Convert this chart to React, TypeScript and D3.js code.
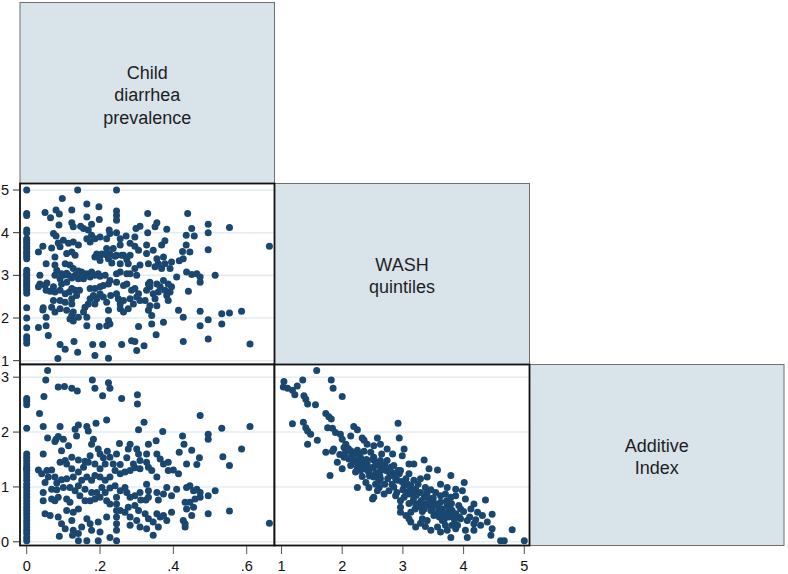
import React from "react";
import * as d3 from "d3";

// ---------- data ----------
const varLabels: string[][] = [
  ["Child", "diarrhea", "prevalence"],
  ["WASH", "quintiles"],
  ["Additive", "Index"],
];

const diarrheaTicks = [0, 0.2, 0.4, 0.6];
const diarrheaTickLabels = ["0", ".2", ".4", ".6"];
const washTicks = [1, 2, 3, 4, 5];
const additiveTicks = [0, 1, 2, 3];

// Panel: WASH quintiles (y) vs child diarrhea prevalence (x)
const washVsDiarrhea: [number, number][] = [
  [0, 5], [0, 4.45], [0, 4.4], [0, 4.06], [0, 4.0], [0, 3.86], [0, 3.81], [0, 3.75], [0, 3.68], [0, 3.63],
  [0, 3.56], [0, 3.51], [0, 3.45], [0, 3.39], [0, 3.12], [0, 3.05], [0, 3.0], [0, 2.94], [0, 2.88], [0, 2.82],
  [0, 2.76], [0, 2.71], [0, 2.65], [0, 2.58], [0, 2.24], [0, 2.0], [0, 1.77], [0, 1.56], [0, 1.49], [0, 1.41],
  [.139, 5], [.245, 5], [.097, 4.8], [.164, 4.67], [.197, 4.61], [.123, 4.53], [.05, 4.47], [.08, 4.53], [.089, 4.44],
  [.245, 4.51], [.245, 4.4], [.245, 4.29], [.065, 4.35], [.164, 4.37], [.198, 4.31], [.33, 4.45], [.439, 4.45],
  [.495, 4.2], [.553, 4.12], [.495, 4.0], [.45, 4.1], [.457, 3.92], [.435, 3.94], [.355, 4.23], [.35, 4.14],
  [.382, 4.08], [.33, 4.0], [.309, 4.15], [.298, 4.1], [.225, 4.06], [.123, 4.23], [.127, 4.14], [.147, 4.15],
  [.155, 4.1], [.177, 4.2], [.168, 4.06], [.177, 3.94], [.088, 4.18], [.073, 3.98], [.08, 3.92], [.086, 3.76],
  [.091, 3.67], [.1, 3.82], [.114, 3.75], [.127, 3.78], [.141, 3.71], [.109, 3.51], [.123, 3.55], [.132, 3.47],
  [.077, 3.43], [.053, 3.27], [.032, 3.55], [.044, 3.68], [.068, 3.64], [.164, 3.86], [.173, 3.78], [.186, 3.86],
  [.2, 3.9], [.218, 3.86], [.227, 3.98], [.245, 4.0], [.255, 3.86], [.271, 3.92], [.282, 3.75], [.295, 3.9],
  [.295, 3.68], [.305, 3.59], [.255, 3.71], [.236, 3.63], [.218, 3.63], [.2, 3.47], [.214, 3.49], [.223, 3.39],
  [.245, 3.47], [.264, 3.47], [.273, 3.37], [.255, 3.27], [.232, 3.29], [.2, 3.35], [.186, 3.43], [.327, 3.71],
  [.327, 3.51], [.345, 3.59], [.368, 3.71], [.377, 3.81], [.373, 3.43], [.355, 3.39], [.377, 3.27], [.359, 3.27],
  [.395, 3.31], [.416, 3.34], [.425, 3.56], [.435, 3.71], [.445, 3.55], [.427, 3.39], [.495, 3.6], [.662, 3.68],
  [.436, 3.08], [.45, 3.02], [.464, 3.04], [.473, 2.96], [.473, 2.84], [.514, 3.0], [.441, 2.63], [.409, 2.96],
  [.391, 3.16], [.368, 3.16], [.35, 3.2], [.332, 3.27], [.309, 3.24], [.295, 3.16], [.277, 3.27], [.282, 3.04],
  [.3, 3.0], [.255, 3.08], [.245, 3.04], [.273, 3.04], [.077, 3.24], [.082, 3.12], [.077, 3.0], [.095, 3.04],
  [.109, 3.05], [.127, 3.16], [.141, 3.1], [.118, 3.24], [.105, 3.27], [.15, 3.08], [.164, 3.04], [.173, 2.96],
  [.186, 3.0], [.195, 3.04], [.177, 3.08], [.155, 2.92], [.141, 2.92], [.123, 2.94], [.091, 2.92], [.095, 2.8],
  [.109, 2.84], [.036, 3.0], [.036, 2.8], [.032, 2.73], [.05, 2.76], [.053, 2.65], [.064, 2.63], [.055, 2.82],
  [.073, 2.73], [.077, 2.61], [.091, 2.65], [.105, 2.57], [.116, 2.61], [.123, 2.69], [.132, 2.65], [.144, 2.65],
  [.136, 2.53], [.123, 2.45], [.105, 2.37], [.091, 2.41], [.073, 2.41], [.068, 2.25], [.045, 2.24], [.044, 2.19],
  [.077, 2.14], [.091, 2.22], [.109, 2.18], [.123, 2.33], [.127, 2.14], [.118, 1.98], [.127, 1.93], [.123, 2.06],
  [.141, 2.02], [.164, 2.02], [.155, 2.14], [.159, 2.25], [.168, 2.33], [.173, 2.45], [.182, 2.53], [.173, 2.69],
  [.186, 2.69], [.2, 2.73], [.209, 2.76], [.223, 2.8], [.227, 2.88], [.2, 2.57], [.191, 2.45], [.186, 2.33],
  [.209, 2.49], [.218, 2.37], [.223, 2.18], [.229, 2.53], [.245, 2.57], [.25, 2.45], [.255, 2.33], [.255, 2.22],
  [.264, 2.41], [.245, 2.84], [.264, 2.76], [.273, 2.8], [.286, 2.65], [.295, 2.69], [.305, 2.57], [.3, 2.49],
  [.309, 2.41], [.323, 2.41], [.282, 2.45], [.291, 2.33], [.277, 2.22], [.264, 2.14], [.327, 2.65], [.336, 2.73],
  [.332, 2.8], [.345, 2.57], [.336, 2.84], [.355, 2.8], [.364, 2.73], [.359, 2.61], [.35, 2.45], [.373, 2.88],
  [.377, 2.65], [.382, 2.53], [.386, 2.41], [.391, 2.61], [.395, 2.73], [.386, 2.8], [.355, 2.29], [.336, 2.29],
  [.332, 2.18], [.341, 2.06], [.341, 1.86], [.373, 1.9], [.427, 2.02], [.414, 2.18], [.473, 2.16], [.495, 1.96],
  [.473, 1.82], [.532, 2.1], [.553, 2.12], [.586, 2.16], [.532, 1.86], [.609, 1.39], [.495, 1.51], [.427, 1.45],
  [.353, 1.61], [.305, 1.8], [.32, 1.35], [.3, 1.24], [.295, 1.45], [.286, 1.47], [.259, 1.38], [.223, 1.94],
  [.218, 1.82], [.227, 1.86], [.198, 1.8], [.164, 1.82], [.223, 1.06], [.186, 1.12], [.207, 1.38], [.18, 1.38],
  [.139, 1.2], [.129, 1.45], [.105, 1.27], [.091, 1.38], [.085, 1.05], [.059, 1.59], [.032, 1.78], [.053, 1.82],
  [.053, 2.02], [.191, 3.5], [.205, 3.5], [.227, 3.5], [.241, 3.45], [.259, 3.47], [.282, 3.47], [.1, 3.0],
  [.114, 3.0], [.132, 3.0], [.15, 3.0], [.168, 3.0], [.2, 2.98], [.214, 3.0],
];

// Panel: Additive index (y) vs child diarrhea prevalence (x)
const additiveVsDiarrhea: [number, number][] = [
  [0, 2.61], [0, 2.56], [0, 2.5], [0, 2.07], [0, 1.6], [0, 1.54], [0, 1.48], [0, 1.42], [0, 1.36], [0, 1.33],
  [0, 1.3], [0, 1.24], [0, 1.18], [0, 1.12], [0, 1.05], [0, 0.99], [0, 0.93], [0, 0.87], [0, 0.81], [0, 0.75],
  [0, 0.69], [0, 0.63], [0, 0.57], [0, 0.51], [0, 0.45], [0, 0.39], [0, 0.33], [0, 0.27], [0, 0.21], [0, 0.15],
  [0, 0.08], [0, 0.02],
  [.057, 3.12], [.052, 2.95], [.047, 2.65], [.086, 2.82], [.103, 2.83], [.123, 2.8], [.138, 2.75], [.179, 2.95],
  [.186, 2.8], [.223, 2.9], [.227, 2.8], [.207, 2.66], [.259, 2.61], [.302, 2.68], [.302, 2.51], [.035, 2.34],
  [.045, 2.1], [.091, 2.1], [.132, 2.05], [.141, 2.13], [.136, 1.93], [.164, 2.1], [.168, 2.02], [.189, 2.16],
  [.218, 2.22], [.32, 2.18], [.305, 2.04], [.371, 2.01], [.473, 2.3], [.532, 2.07], [.609, 2.1], [.495, 1.96],
  [.495, 1.87], [.425, 1.93], [.429, 1.78], [.45, 1.67], [.464, 1.41], [.471, 1.53], [.535, 1.55], [.553, 1.39],
  [.586, 1.69], [.045, 1.6], [.057, 1.89], [.08, 1.87], [.086, 1.92], [.077, 1.83], [.1, 1.87], [.114, 1.75],
  [.095, 1.66], [.105, 1.48], [.123, 1.54], [.141, 1.49], [.159, 1.47], [.173, 1.57], [.177, 1.78], [.182, 1.87],
  [.195, 1.69], [.2, 1.6], [.209, 1.53], [.22, 1.65], [.227, 1.54], [.245, 1.6], [.253, 1.79], [.282, 1.78],
  [.277, 1.69], [.3, 1.69], [.305, 1.6], [.309, 1.48], [.273, 1.53], [.291, 1.42], [.255, 1.41], [.236, 1.42],
  [.214, 1.42], [.2, 1.33], [.186, 1.42], [.168, 1.45], [.155, 1.36], [.141, 1.27], [.123, 1.33], [.109, 1.42],
  [.091, 1.45], [.032, 1.31], [.041, 1.24], [.055, 1.3], [.068, 1.31], [.059, 1.18], [.05, 1.08], [.077, 1.18],
  [.082, 1.07], [.095, 1.13], [.109, 1.15], [.127, 1.18], [.141, 1.02], [.15, 1.12], [.164, 1.18], [.177, 1.12],
  [.186, 1.21], [.2, 1.18], [.214, 1.12], [.227, 1.18], [.241, 1.3], [.255, 1.24], [.268, 1.27], [.282, 1.3],
  [.295, 1.35], [.309, 1.33], [.327, 1.45], [.332, 1.36], [.341, 1.3], [.355, 1.18], [.373, 1.42], [.386, 1.3],
  [.4, 1.31], [.414, 1.24], [.332, 1.78], [.353, 1.84], [.416, 1.63], [.436, 1.42], [.327, 1.6], [.355, 1.6],
  [.364, 1.51], [.386, 1.45], [.045, .9], [.068, .96], [.082, .95], [.1, .99], [.118, .99], [.132, .93],
  [.145, .84], [.159, .96], [.177, .9], [.191, .9], [.205, .99], [.214, .9], [.227, .98], [.241, 1.02],
  [.255, .93], [.268, .99], [.273, .9], [.282, .81], [.295, .84], [.309, .9], [.327, 1.05], [.332, .93],
  [.332, .81], [.325, .76], [.311, .76], [.355, .9], [.359, .76], [.373, .87], [.382, .99], [.395, .84],
  [.409, .96], [.436, .99], [.445, 1.02], [.455, .93], [.464, .96], [.473, .9], [.514, .93], [.495, .84],
  [.473, .81], [.459, .78], [.445, .72], [.432, .72], [.455, .63], [.436, .6], [.045, .75], [.068, .78],
  [.077, .75], [.086, .81], [.109, .78], [.118, .72], [.109, .57], [.127, .54], [.141, .6], [.159, .75],
  [.173, .75], [.186, .78], [.2, .81], [.218, .75], [.227, .69], [.245, .81], [.245, .69], [.245, .57],
  [.245, .45], [.245, .33], [.245, .21], [.255, .57], [.268, .54], [.277, .63], [.295, .66], [.305, .57],
  [.282, .45], [.3, .39], [.323, .51], [.332, .42], [.345, .36], [.355, .51], [.364, .45], [.373, .48],
  [.382, .39], [.395, .54], [.05, .51], [.064, .48], [.086, .45], [.095, .33], [.105, .24], [.123, .39],
  [.127, .21], [.141, .15], [.15, .27], [.164, .42], [.173, .33], [.177, .21], [.195, .36], [.2, .18],
  [.218, .45], [.227, .08], [.245, .02], [.195, .02], [.164, .02], [.141, .02], [.089, .1], [.125, .12],
  [.282, .3], [.309, .27], [.327, .24], [.345, .12], [.359, .27], [.427, .39], [.432, .33], [.432, .27],
  [.45, .48], [.495, .51], [.553, .56], [.662, .34],
];

// Panel: Additive index (y) vs WASH quintiles (x)
const additiveVsWash: [number, number][] = [
  [1.58, 3.12], [1.04, 2.92], [1.03, 2.82], [1.1, 2.8], [1.18, 2.76], [1.22, 2.68], [1.26, 2.84], [1.35, 2.95],
  [1.37, 2.66], [1.4, 2.6], [1.43, 2.51], [1.56, 2.5], [1.82, 2.95], [1.85, 2.8], [2.0, 2.65], [1.73, 2.34],
  [1.78, 2.28], [1.82, 2.24], [1.18, 2.15], [1.36, 2.18], [1.4, 2.08], [1.43, 2.02], [1.48, 1.96], [1.43, 1.78],
  [1.59, 1.85], [1.76, 2.08], [1.84, 2.07], [1.89, 1.99], [1.97, 1.96], [2.0, 1.87], [2.06, 1.78], [2.14, 1.93],
  [2.19, 2.1], [2.25, 2.04], [2.33, 1.89], [2.36, 1.85], [2.41, 1.78], [2.52, 1.75], [2.58, 1.89], [2.63, 1.78],
  [2.74, 1.69], [2.83, 1.6], [2.92, 2.16], [2.94, 1.89], [3.02, 1.69], [2.99, 1.57], [3.1, 1.42], [3.18, 1.42],
  [3.35, 1.49], [3.43, 1.33], [3.57, 1.31], [3.79, 1.21], [4.01, 1.08], [3.87, .96], [3.73, .99], [3.62, 1.05],
  [3.4, 1.18], [3.29, 1.15], [3.18, 1.12], [3.1, 1.24], [2.96, 1.3], [2.85, 1.39], [2.74, 1.48], [2.63, 1.48],
  [2.52, 1.54], [2.47, 1.63], [2.36, 1.65], [2.25, 1.67], [2.14, 1.66], [2.03, 1.72], [1.96, 1.59], [1.86, 1.69],
  [1.73, 1.63], [1.84, 1.65], [1.92, 1.45], [2.0, 1.33], [1.8, 1.21], [2.11, 1.51], [2.22, 1.48], [2.3, 1.42],
  [2.36, 1.33], [2.44, 1.27], [2.52, 1.18], [2.63, 1.15], [2.72, 1.3], [2.8, 1.21], [2.94, 1.24], [3.05, 1.15],
  [3.13, 1.02], [3.21, .96], [3.29, .9], [3.37, .99], [3.46, .95], [3.54, .9], [3.62, .84], [3.7, .87],
  [3.79, .81], [3.87, .84], [3.98, .93], [4.03, .78], [4.17, .69], [4.36, .76], [4.31, .48], [4.23, .54],
  [4.47, .5], [4.39, .36], [4.47, .24], [4.45, .12], [4.61, .02], [4.67, .02], [4.8, .22], [5.0, .02],
  [4.17, .33], [4.06, .39], [4.03, .21], [4.06, .08], [3.95, .42], [3.87, .51], [3.76, .45], [3.68, .51],
  [3.59, .57], [3.51, .48], [3.4, .39], [3.29, .34], [3.21, .27], [3.13, .36], [3.05, .48], [2.96, .54],
  [3.13, .54], [3.29, .63], [3.37, .69], [3.46, .75], [3.54, .69], [3.62, .72], [3.73, .66], [3.81, .57],
  [3.92, .66], [3.65, .39], [3.57, .27], [3.62, .18], [3.73, .21], [3.81, .3], [3.87, .24], [4.28, .3],
  [4.17, .21], [2.96, .75], [3.02, .81], [2.88, .84], [2.77, .93], [2.69, .87], [2.61, .99], [2.52, .81],
  [2.5, .78], [2.25, .99], [2.39, 1.08], [2.44, .99], [2.58, .93], [2.33, 1.19], [2.22, 1.27], [2.14, 1.39],
  [2.03, 1.54], [2.3, 1.54], [2.41, 1.42], [2.52, 1.36], [2.63, 1.3], [2.8, 1.36], [2.91, 1.12], [3.02, 1.02],
  [3.1, .87], [3.18, .81], [3.21, .69], [3.35, .81], [3.46, .57], [2.96, .63], [3.1, .42], [3.32, .42],
  [3.79, .08], [3.46, .21], [3.37, .28], [2.3, 1.3], [2.45, 1.2], [2.55, 1.25], [2.6, 1.1], [2.7, 1.05],
  [2.85, 1.0], [2.9, .9], [3.0, .95], [3.1, .7], [3.2, .6], [3.3, .75], [3.45, .65], [3.55, .5], [3.6, .45],
  [3.75, .55], [3.7, .3], [3.85, .4], [2.4, 1.5], [2.55, 1.45], [2.7, 1.4], [2.85, 1.25], [3.4, .9], [3.5, .8],
  [3.65, .6], [3.8, .7], [3.95, .6], [2.2, 1.6], [2.35, 1.45], [2.65, 1.6], [3.15, .9], [3.25, 1.05],
  [2.05, 1.62], [2.1, 1.7], [2.15, 1.55], [2.2, 1.45], [2.25, 1.35], [2.28, 1.6], [2.32, 1.5], [2.38, 1.4],
  [2.42, 1.3], [2.48, 1.35], [2.5, 1.5], [2.55, 1.05], [2.6, 1.4], [2.62, 1.2], [2.67, 1.35], [2.75, 1.15],
  [2.78, 1.25], [2.82, 1.05], [2.88, 1.15], [2.92, 1.3], [2.98, 1.1], [3.05, .9], [3.08, 1.05], [3.12, .95],
  [3.17, .75], [3.22, .85], [3.27, .7], [3.32, .55], [3.35, .6], [3.42, .8], [3.48, .6], [3.52, .7],
  [3.58, .65], [3.63, .55], [3.68, .4], [3.72, .75], [3.78, .6], [3.83, .5], [3.9, .3], [3.93, .45],
  [4.0, .55], [4.1, .45], [4.12, .6], [4.2, .4],
];

// ---------- layout ----------
const W = 788;
const H = 574;
const colEdges = [20, 274.5, 529.5, 784];
const rowEdges = [2.5, 183.5, 364.5, 545.5];

const MARK = "#1a476f";
const GRID = "#e4ecf0";
const BOXFILL = "#d9e3ea";
const FONT = "'Liberation Sans', Arial, Helvetica, sans-serif";

const xScales = [
  d3.scaleLinear().domain([0, 0.6]).range([26.7, 246.7]),
  d3.scaleLinear().domain([1, 5]).range([281.5, 524.3]),
];
const yScales: Record<number, d3.ScaleLinear<number, number>> = {
  1: d3.scaleLinear().domain([1, 5]).range([360.7, 190]),
  2: d3.scaleLinear().domain([0, 3]).range([541.8, 377.2]),
};
const yTicks: Record<number, number[]> = { 1: washTicks, 2: additiveTicks };

const panels: { row: number; col: number; data: [number, number][] }[] = [
  { row: 1, col: 0, data: washVsDiarrhea },
  { row: 2, col: 0, data: additiveVsDiarrhea },
  { row: 2, col: 1, data: additiveVsWash },
];

function DiagBox({ i }: { i: number }) {
  const x0 = colEdges[i];
  const x1 = colEdges[i + 1];
  const y0 = rowEdges[i];
  const y1 = rowEdges[i + 1];
  const lines = varLabels[i];
  const cx = (x0 + x1) / 2;
  const cy = (y0 + y1) / 2 + 2;
  const lh = 22.5;
  return (
    <g>
      <rect x={x0} y={y0} width={x1 - x0} height={y1 - y0} fill={BOXFILL} stroke="#6e6e6e" strokeWidth={1} />
      {lines.map((t, k) => (
        <text
          key={k}
          x={cx}
          y={cy + (k - (lines.length - 1) / 2) * lh}
          textAnchor="middle"
          dominantBaseline="central"
          fontSize={18}
          fill="#1e1e1e"
          fontFamily={FONT}
        >
          {t}
        </text>
      ))}
    </g>
  );
}

function Panel({ row, col, data }: { row: number; col: number; data: [number, number][] }) {
  const x0 = colEdges[col];
  const x1 = colEdges[col + 1];
  const y0 = rowEdges[row];
  const y1 = rowEdges[row + 1];
  const xs = xScales[col];
  const ys = yScales[row];
  const clipId = `clip-${row}-${col}`;
  return (
    <g>
      <defs>
        <clipPath id={clipId}>
          <rect x={x0} y={y0} width={x1 - x0} height={y1 - y0} />
        </clipPath>
      </defs>
      <rect x={x0} y={y0} width={x1 - x0} height={y1 - y0} fill="#fff" />
      {yTicks[row].map((t) => (
        <line key={t} x1={x0} x2={x1} y1={ys(t)} y2={ys(t)} stroke={GRID} strokeWidth={1.6} />
      ))}
      <g clipPath={`url(#${clipId})`}>
        {data.map((d, k) => (
          <circle key={k} cx={xs(d[0])} cy={ys(d[1])} r={3.5} fill={MARK} />
        ))}
      </g>
      <rect x={x0} y={y0} width={x1 - x0} height={y1 - y0} fill="none" stroke="#111" strokeWidth={1.8} />
    </g>
  );
}

export default function App() {
  return (
    <svg
      width={W}
      height={H}
      viewBox={`0 0 ${W} ${H}`}
      style={{ position: "absolute", left: 0, top: 0, background: "#fff" }}
    >
      <rect x={0} y={0} width={W} height={H} fill="#fff" />
      {[0, 1, 2].map((i) => (
        <DiagBox key={i} i={i} />
      ))}
      {panels.map((p) => (
        <Panel key={`${p.row}-${p.col}`} {...p} />
      ))}
      {[1, 2].map((row) =>
        yTicks[row].map((t) => (
          <g key={`y${row}-${t}`}>
            <line x1={13} x2={20} y1={yScales[row](t)} y2={yScales[row](t)} stroke="#333" strokeWidth={1} />
            <text
              x={9}
              y={yScales[row](t)}
              textAnchor="end"
              dominantBaseline="central"
              fontSize={14.5}
              fill="#111"
              fontFamily={FONT}
            >
              {t}
            </text>
          </g>
        ))
      )}
      {diarrheaTicks.map((t, k) => (
        <g key={`xd${k}`}>
          <line x1={xScales[0](t)} x2={xScales[0](t)} y1={546} y2={554} stroke="#555" strokeWidth={1} />
          <text x={xScales[0](t)} y={571} textAnchor="middle" fontSize={14.5} fill="#111" fontFamily={FONT}>
            {diarrheaTickLabels[k]}
          </text>
        </g>
      ))}
      {washTicks.map((t) => (
        <g key={`xw${t}`}>
          <line x1={xScales[1](t)} x2={xScales[1](t)} y1={546} y2={554} stroke="#555" strokeWidth={1} />
          <text x={xScales[1](t)} y={571} textAnchor="middle" fontSize={14.5} fill="#111" fontFamily={FONT}>
            {t}
          </text>
        </g>
      ))}
    </svg>
  );
}
